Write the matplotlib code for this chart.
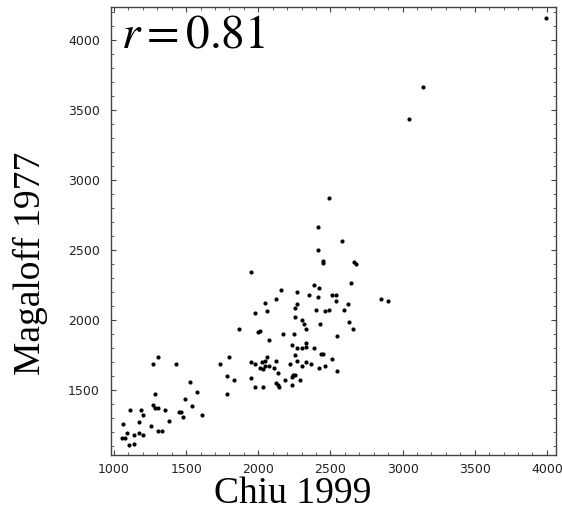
import matplotlib
matplotlib.use("Agg")
import matplotlib.pyplot as plt
from matplotlib.ticker import MultipleLocator

# Chiu 1999 (x) vs Magaloff 1977 (y)
chiu = [1053, 1078, 1064, 1090, 1102, 1113, 1137, 1137, 1173, 1173,
        1187, 1199, 1199, 1258, 1270, 1270, 1284, 1284, 1307, 1307,
        1307, 1333, 1356, 1381, 1430, 1453, 1466, 1478, 1490, 1527,
        1538, 1575, 1612, 1735, 1795, 1781, 1781, 1832,
        1868, 1951, 1975, 1998, 2010, 1951, 1975, 1951, 1975, 2035,
        2024, 2049, 2049, 2062, 2074, 2060, 2049, 2072, 2012, 2035,
        2109, 2123, 2123, 2134, 2121, 2134, 2146, 2159, 2171, 2183,
        2218, 2231, 2231, 2231, 2243, 2256, 2245, 2256, 2256, 2268,
        2268, 2268, 2254, 2266, 2291, 2303, 2315, 2303, 2305, 2328,
        2328, 2328, 2328, 2351, 2365, 2388, 2386, 2402, 2412, 2414,
        2414, 2423, 2426, 2423, 2437, 2450, 2448, 2448, 2460, 2464,
        2488, 2488, 2509, 2535, 2535, 2511, 2547, 2547, 2582, 2596,
        2620, 2630, 2644, 2656, 2665, 2679, 2850, 2899,
        3046, 3143, 3994]
magaloff = [1155, 1155, 1257, 1193, 1105, 1357, 1181, 1116, 1269, 1193,
            1357, 1319, 1181, 1243, 1686, 1395, 1471, 1369, 1738, 1369,
            1207, 1207, 1357, 1281, 1686, 1345, 1345, 1307, 1434, 1559,
            1384, 1484, 1319, 1686, 1738, 1598, 1471, 1571,
            1938, 2341, 2050, 1912, 1924, 1700, 1686, 1586, 1521, 1521,
            1700, 1709, 2124, 2062, 1859, 1734, 1671, 1671, 1659, 1648,
            1659, 1709, 2150, 1621, 1548, 1534, 1521, 2214, 1898, 1571,
            1686, 1824, 1595, 1534, 1609, 1609, 1898, 2024, 2088, 2112,
            2200, 1798, 1748, 1709, 1571, 2000, 1974, 1671, 1798, 1936,
            1834, 1809, 1698, 2176, 1686, 1798, 2252, 2074, 2162, 2666,
            2502, 2226, 1974, 1659, 1759, 1759, 2424, 2405, 1671, 2062,
            2074, 2869, 2176, 2176, 2138, 1721, 1886, 1636, 2566, 2074,
            2112, 1986, 2263, 1936, 2416, 2402, 2150, 2138,
            3436, 3662, 4155]
r_value = 0.81

plt.rcParams["mathtext.fontset"] = "stix"

fig = plt.figure(figsize=(5.62, 5.09), dpi=100)
ax = fig.add_axes([111 / 562, 54 / 509, 445 / 562, 448 / 509])

ax.scatter(chiu, magaloff, s=9, color="black", linewidths=0)

ax.set_xlim(979, 4063)
ax.set_ylim(1036, 4236)
ax.xaxis.set_major_locator(MultipleLocator(500))
ax.xaxis.set_minor_locator(MultipleLocator(100))
ax.yaxis.set_major_locator(MultipleLocator(500))
ax.yaxis.set_minor_locator(MultipleLocator(100))
ax.tick_params(which="both", direction="in", top=True, right=True,
               color="#444444", labelsize=9, labelcolor="#222222")
ax.tick_params(which="major", length=3.5, width=0.8)
ax.tick_params(which="minor", length=2, width=0.6)
ax.tick_params(axis="x", pad=6)
ax.tick_params(axis="y", pad=8)
for sp in ax.spines.values():
    sp.set_color("#444444")
    sp.set_linewidth(1)

serif = ["Liberation Serif", "DejaVu Serif"]
fig.text(293 / 562, 6 / 509, "Chiu 1999", family=serif, fontsize=27,
         ha="center", va="baseline")
fig.text(30 / 562, (509 - 263) / 509, "Magaloff 1977", family=serif,
         fontsize=27, rotation=90, ha="center", va="center")
fig.text(121 / 562, (509 - 47) / 509, r"$r = %.2f$" % r_value,
         fontsize=34, ha="left", va="baseline")

fig.savefig("out.png", dpi=100)
